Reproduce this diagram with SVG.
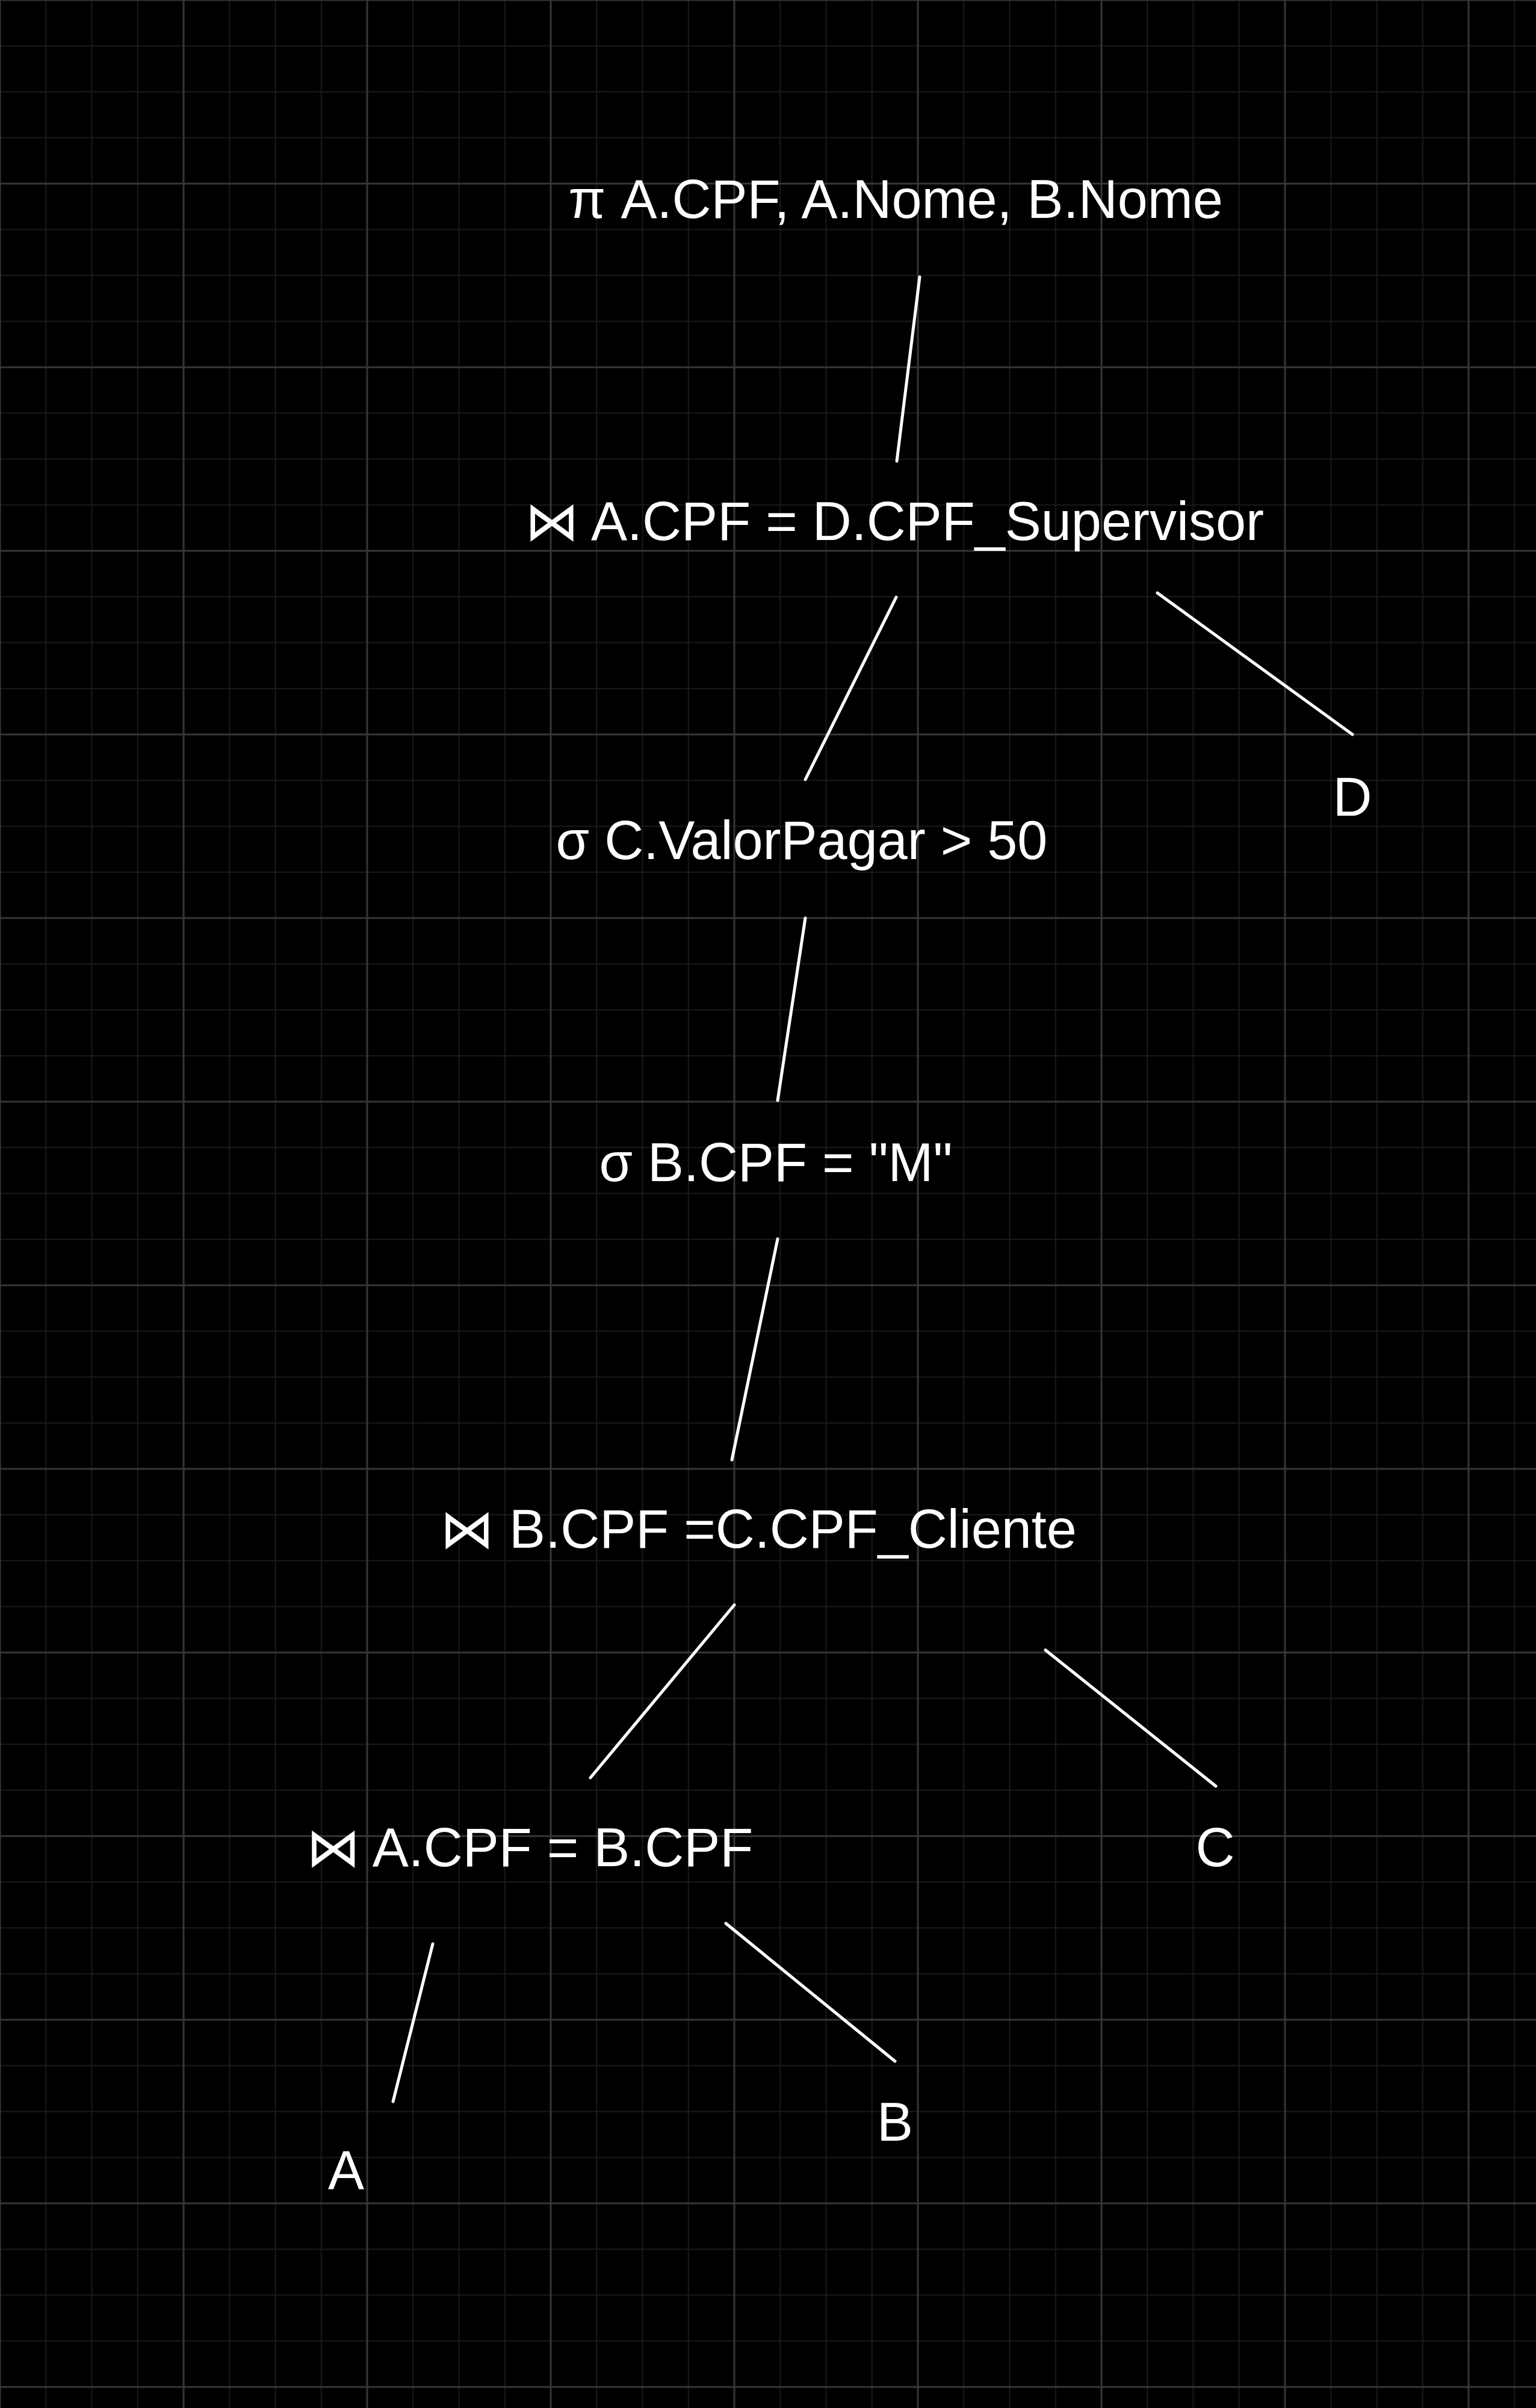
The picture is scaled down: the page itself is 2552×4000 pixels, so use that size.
<svg xmlns="http://www.w3.org/2000/svg" width="2552" height="4000" viewBox="0 0 2552 4000">
  <style>
    .lbl { font-family: "Liberation Sans", Arial, "DejaVu Sans", sans-serif; font-size: 90px; fill: #ffffff; text-anchor: middle; }
    .edge { stroke: #ffffff; stroke-width: 5; stroke-linecap: round; fill: none; }
  </style>
  <defs>
    <pattern id="minor" x="-1" y="-1" width="76.25" height="76.25" patternUnits="userSpaceOnUse">
      <rect x="0" y="0" width="2" height="76.25" fill="#1a1a1a"/>
      <rect x="0" y="0" width="76.25" height="2" fill="#1a1a1a"/>
    </pattern>
    <pattern id="major" x="-1.5" y="-1.5" width="305" height="305" patternUnits="userSpaceOnUse">
      <rect x="0" y="0" width="3" height="305" fill="#363636"/>
      <rect x="0" y="0" width="305" height="3" fill="#363636"/>
    </pattern>
  </defs>
  <rect x="0" y="0" width="2552" height="4000" fill="#000000"/>
  <rect x="0" y="0" width="2552" height="4000" fill="url(#minor)"/>
  <rect x="0" y="0" width="2552" height="4000" fill="url(#major)"/>

  <g id="connectors">
    <line class="edge" x1="1528" y1="460" x2="1490" y2="766"/>
    <line class="edge" x1="1489" y1="992" x2="1338" y2="1295"/>
    <line class="edge" x1="1923" y1="985" x2="2247" y2="1220"/>
    <line class="edge" x1="1338" y1="1525" x2="1292" y2="1828"/>
    <line class="edge" x1="1292" y1="2058" x2="1216" y2="2425"/>
    <line class="edge" x1="1220" y1="2666" x2="981" y2="2953"/>
    <line class="edge" x1="1737" y1="2741" x2="2020" y2="2967"/>
    <line class="edge" x1="719" y1="3229" x2="653" y2="3491"/>
    <line class="edge" x1="1206" y1="3195" x2="1487" y2="3424"/>
  </g>

  <g id="node-projection"><text class="lbl" x="1488" y="362">π A.CPF, A.Nome, B.Nome</text></g>
  <g id="node-join-ad"><text class="lbl" x="1486" y="897">⋈ A.CPF = D.CPF_Supervisor</text></g>
  <g id="node-select-valor"><text class="lbl" x="1332" y="1427">σ C.ValorPagar &gt; 50</text></g>
  <g id="node-select-cpf"><text class="lbl" x="1289" y="1962">σ B.CPF = "M"</text></g>
  <g id="node-join-bc"><text class="lbl" x="1260" y="2571">⋈ B.CPF =C.CPF_Cliente</text></g>
  <g id="node-join-ab"><text class="lbl" x="880" y="3100">⋈ A.CPF = B.CPF</text></g>
  <g id="node-a"><text class="lbl" x="575" y="3636">A</text></g>
  <g id="node-b"><text class="lbl" x="1487" y="3556">B</text></g>
  <g id="node-c"><text class="lbl" x="2019" y="3100">C</text></g>
  <g id="node-d"><text class="lbl" x="2247" y="1355">D</text></g>
</svg>
